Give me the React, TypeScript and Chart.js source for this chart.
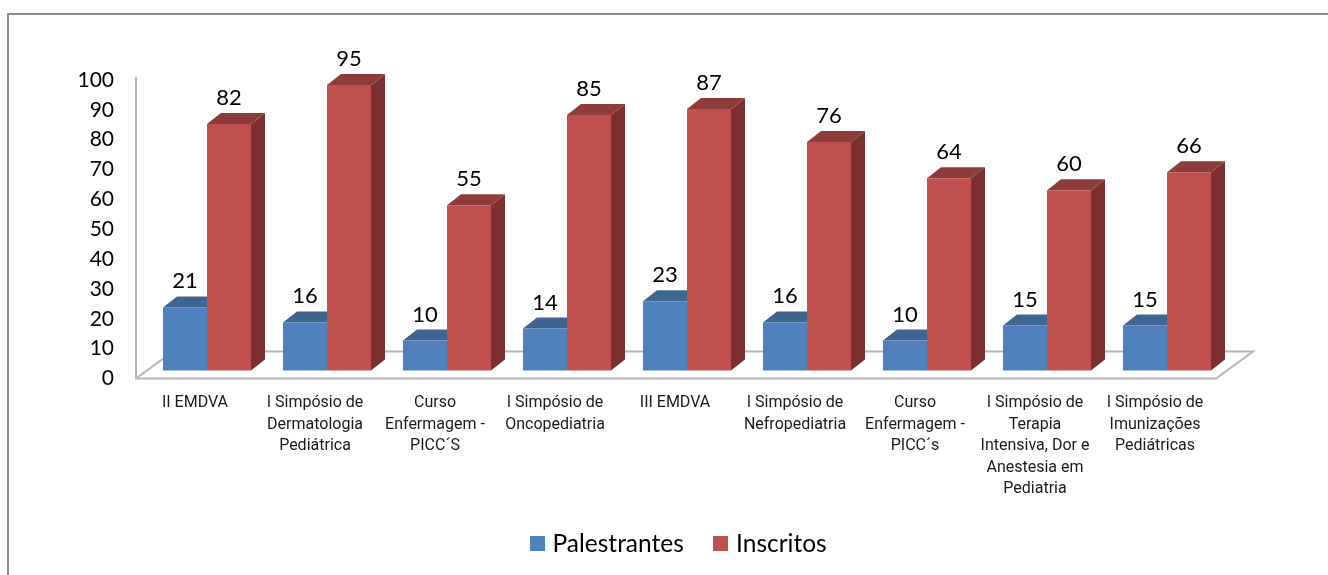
import React, { useEffect, useRef } from "react";
import { Chart, registerables } from "chart.js";

Chart.register(...registerables);

const categories = [
  ["II EMDVA"],
  ["I Simpósio de", "Dermatologia", "Pediátrica"],
  ["Curso", "Enfermagem -", "PICC´S"],
  ["I Simpósio de", "Oncopediatria"],
  ["III EMDVA"],
  ["I Simpósio de", "Nefropediatria"],
  ["Curso", "Enfermagem -", "PICC´s"],
  ["I Simpósio de", "Terapia", "Intensiva, Dor e", "Anestesia em", "Pediatria"],
  ["I Simpósio de", "Imunizações", "Pediátricas"],
];
const palestrantes = [21, 16, 10, 14, 23, 16, 10, 15, 15];
const inscritos = [82, 95, 55, 85, 87, 76, 64, 60, 66];

const BLUE = "#4F81BD";
const RED = "#C0504D";
const faces: Record<string, { top: string; side: string }> = {
  Palestrantes: { top: "#3E658F", side: "#355678" },
  Inscritos: { top: "#8E3C3A", side: "#7A3130" },
};
const DX = 14;
const DY = 11;

function swatch(color: string) {
  const c = document.createElement("canvas");
  c.width = 15;
  c.height = 15;
  const g = c.getContext("2d")!;
  g.fillStyle = color;
  g.fillRect(0, 0, 15, 15);
  return c;
}

const scene3d = {
  id: "scene3d",
  afterLayout(chart: any) {
    const L = chart.legend;
    L.left += 54;
    L.right += 54;
    L.top -= 9;
    L.bottom -= 9;
  },
  beforeDatasetsDraw(chart: any) {
    const { ctx, chartArea, scales } = chart;
    const y0 = scales.y.getPixelForValue(0);
    const yTop = scales.y.getPixelForValue(100);
    const left = chartArea.left - 11;
    const right = chartArea.right - 11;
    ctx.save();
    // outer frame (cut by the image's right and bottom edges)
    ctx.strokeStyle = "#8C8C8C";
    ctx.lineWidth = 2;
    ctx.beginPath();
    ctx.moveTo(8, 575);
    ctx.lineTo(8, 14);
    ctx.lineTo(1328, 14);
    ctx.stroke();
    // wall and floor
    ctx.strokeStyle = "#B4B4B4";
    ctx.lineWidth = 2;
    ctx.beginPath();
    ctx.moveTo(left, yTop - 3);
    ctx.lineTo(left, y0);
    ctx.lineTo(right, y0);
    ctx.lineTo(right + 37, y0 - 27);
    ctx.lineTo(left + 37, y0 - 27);
    ctx.lineTo(left, y0);
    ctx.stroke();
    // bar side and top faces
    chart.data.datasets.forEach((ds: any, di: number) => {
      const meta = chart.getDatasetMeta(di);
      meta.data.forEach((bar: any) => {
        const l = bar.x - bar.width / 2;
        const r = bar.x + bar.width / 2;
        const t = bar.y;
        const b = bar.base;
        ctx.fillStyle = faces[ds.label].side;
        ctx.beginPath();
        ctx.moveTo(r, t);
        ctx.lineTo(r + DX, t - DY);
        ctx.lineTo(r + DX, b - DY);
        ctx.lineTo(r, b);
        ctx.closePath();
        ctx.fill();
        ctx.fillStyle = faces[ds.label].top;
        ctx.beginPath();
        ctx.moveTo(l, t);
        ctx.lineTo(l + DX, t - DY);
        ctx.lineTo(r + DX, t - DY);
        ctx.lineTo(r, t);
        ctx.closePath();
        ctx.fill();
      });
    });
    ctx.restore();
  },
  afterDatasetsDraw(chart: any) {
    const { ctx } = chart;
    ctx.save();
    ctx.font = "22px Lato";
    ctx.fillStyle = "#000";
    ctx.textAlign = "center";
    ctx.textBaseline = "middle";
    chart.data.datasets.forEach((ds: any, di: number) => {
      chart.getDatasetMeta(di).data.forEach((bar: any, i: number) => {
        ctx.fillText(String(ds.data[i]), bar.x, bar.y - 26);
      });
    });
    ctx.restore();
  },
};

export default function App() {
  const ref = useRef<HTMLCanvasElement>(null);
  useEffect(() => {
    document.body.style.margin = "0";
    const swatches = [swatch(BLUE), swatch(RED)];
    const chart = new Chart(ref.current!, {
      type: "bar",
      data: {
        labels: categories as any,
        datasets: [
          { label: "Palestrantes", data: palestrantes, backgroundColor: BLUE, yAxisID: "yBars" },
          { label: "Inscritos", data: inscritos, backgroundColor: RED, yAxisID: "yBars" },
        ],
      },
      options: {
        responsive: false,
        animation: false,
        layout: { padding: { top: 80, left: 26, right: 101, bottom: 0 } },
        datasets: { bar: { categoryPercentage: 88 / 120, barPercentage: 1 } },
        plugins: {
          tooltip: { enabled: false },
          legend: {
            position: "bottom",
            labels: {
              usePointStyle: true,
              pointStyleWidth: 6,
              padding: 34,
              color: "#000",
              font: { family: "Lato", size: 24.5 },
              generateLabels(c: any) {
                return Chart.defaults.plugins.legend.labels
                  .generateLabels(c)
                  .map((it: any, i: number) => ({ ...it, pointStyle: swatches[i] }));
              },
            },
          },
        },
        scales: {
          x: {
            grid: { display: false },
            border: { display: false },
            afterFit(s: any) { s.height = 128; },
            ticks: {
              autoSkip: false,
              maxRotation: 0,
              minRotation: 0,
              labelOffset: -12,
              padding: 6,
              color: "#1a1a1a",
              font: { family: "Roboto", size: 16, lineHeight: 1.34 },
            },
          },
          y: {
            position: "left",
            min: 0,
            max: 100,
            grid: { display: false },
            border: { display: false },
            afterFit(s: any) { s.width = 121; },
            ticks: {
              stepSize: 10,
              padding: 25,
              color: "#000",
              font: { family: "Lato", size: 21 },
            },
          },
          yBars: {
            display: false,
            min: -8 / 3,
            max: 298 / 3 - 8 / 3,
          },
        },
      } as any,
      plugins: [scene3d],
    });
    return () => chart.destroy();
  }, []);
  return (
    <div style={{ width: 1328, height: 575 }}>
      <canvas ref={ref} width={1328} height={575} style={{ display: "block" }} />
    </div>
  );
}
